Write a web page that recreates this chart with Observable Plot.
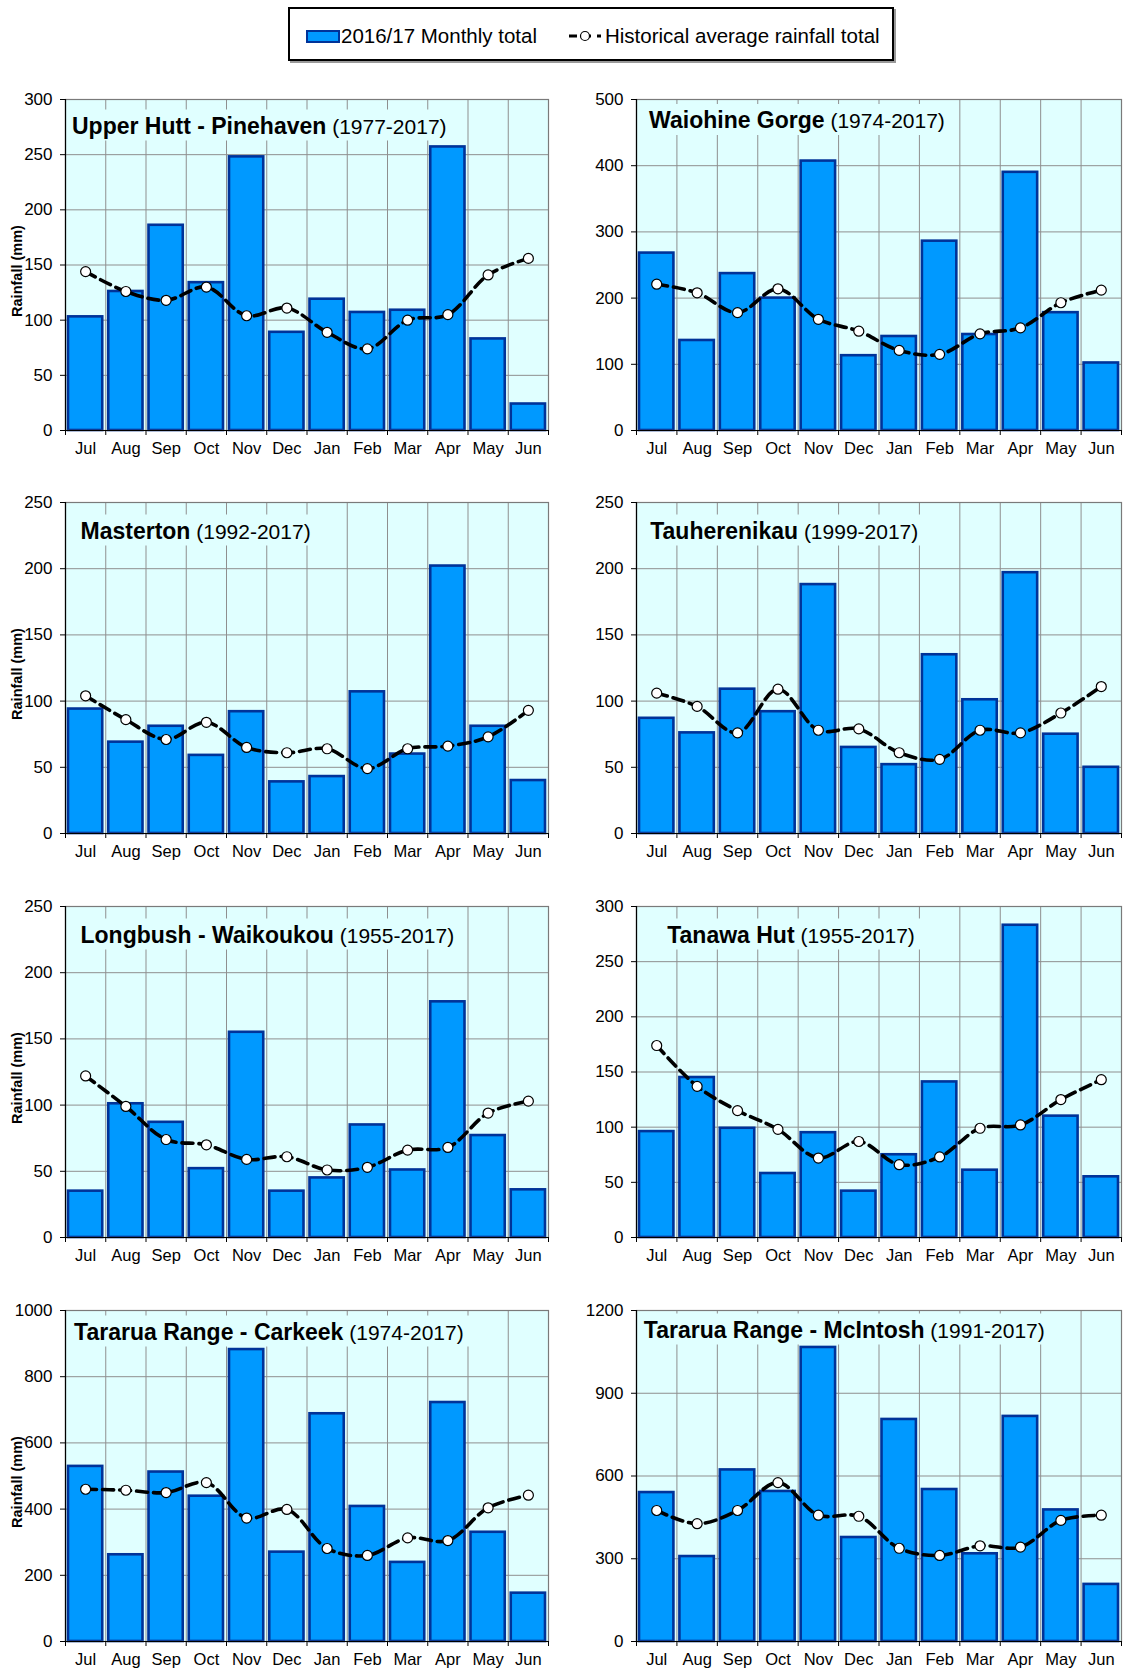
<!DOCTYPE html>
<html>
<head>
<meta charset="utf-8">
<script src="https://cdn.jsdelivr.net/npm/d3@7"></script>
<script src="https://cdn.jsdelivr.net/npm/@observablehq/plot@0.6"></script>
<style>
  body { margin: 0; background: #fff; font-family: Arial, "Liberation Sans", sans-serif; }
  #page { position: relative; width: 1123px; height: 1673px; overflow: hidden; background: #fff; }
  .legend { position: absolute; left: 288px; top: 7px; width: 606px; height: 54px; box-sizing: border-box;
            border: 2px solid #000; box-shadow: 2px 2px 0 #9a9a9a; background: #fff; }
  .legend .sw { position: absolute; left: 16px; top: 21px; width: 34px; height: 13px; box-sizing: border-box;
                background: #0099FF; border: 2.5px solid #003399; }
  .legend .lab { position: absolute; top: 15px; font-size: 20.5px; line-height: 24px; color: #000; white-space: nowrap; }
  .legend svg { position: absolute; left: 277px; top: 19px; }
  .panel { position: absolute; }
</style>
</head>
<body>
<div id="page">
  <div class="legend">
    <div class="sw"></div>
    <div class="lab" style="left:51px">2016/17 Monthly total</div>
    <svg width="36" height="16"><line x1="2" y1="8" x2="34" y2="8" stroke="#000" stroke-width="3" stroke-dasharray="8,6"/><circle cx="18" cy="8" r="4.5" fill="#fff" stroke="#000" stroke-width="1.2"/></svg>
    <div class="lab" style="left:315px">Historical average rainfall total</div>
  </div>
</div>
<script>
const months = ["Jul","Aug","Sep","Oct","Nov","Dec","Jan","Feb","Mar","Apr","May","Jun"];

const stationNames = ["Upper Hutt - Pinehaven","Waiohine Gorge","Masterton","Tauherenikau",
                      "Longbush - Waikoukou","Tanawa Hut","Tararua Range - Carkeek","Tararua Range - McIntosh"];
const stationPeriods = ["(1977-2017)","(1974-2017)","(1992-2017)","(1999-2017)",
                        "(1955-2017)","(1955-2017)","(1974-2017)","(1991-2017)"];
const yMaxima = [300, 500, 250, 250, 250, 300, 1000, 1200];
const yTickSteps = [50, 100, 50, 50, 50, 50, 200, 300];

const monthlyUpperHutt = [103,126,186,134,248,89,119,107,109,257,83,24];
const averageUpperHutt = [144,126,118,130,104,111,89,74,100,105,141,156];
const monthlyWaiohine  = [268,136,237,200,407,113,142,286,145,390,178,102];
const averageWaiohine  = [221,208,178,214,168,150,121,115,146,155,193,212];
const monthlyMasterton = [94,69,81,59,92,39,43,107,60,202,81,40];
const averageMasterton = [104,86,71,84,65,61,64,49,64,66,73,93];
const monthlyTauherenikau = [87,76,109,92,188,65,52,135,101,197,75,50];
const averageTauherenikau = [106,96,76,109,78,79,61,56,78,76,91,111];
const monthlyLongbush  = [35,101,87,52,155,35,45,85,51,178,77,36];
const averageLongbush  = [122,99,74,70,59,61,51,53,66,68,94,103];
const monthlyTanawa    = [96,145,99,58,95,42,75,141,61,283,110,55];
const averageTanawa    = [174,137,115,98,72,87,66,73,99,102,125,143];
const monthlyCarkeek   = [529,262,512,439,882,270,688,408,239,722,330,146];
const averageCarkeek   = [460,457,450,480,373,399,281,260,313,305,404,442];
const monthlyMcIntosh  = [540,308,622,544,1066,377,805,551,318,816,477,207];
const averageMcIntosh  = [475,427,475,576,458,454,338,312,347,342,439,458];

const monthlySeries = [monthlyUpperHutt, monthlyWaiohine, monthlyMasterton, monthlyTauherenikau,
                       monthlyLongbush, monthlyTanawa, monthlyCarkeek, monthlyMcIntosh];
const averageSeries = [averageUpperHutt, averageWaiohine, averageMasterton, averageTauherenikau,
                       averageLongbush, averageTanawa, averageCarkeek, averageMcIntosh];

// layout
const rowTops = [99.2, 502.4, 905.7, 1310];
const titleDx = [6.5, 12.6, 15, 13.7, 15, 30.7, 8.6, 7.3];
const titleBase = [34, 28.5, 36, 36, 36, 36, 29, 27];
const FONT = "Arial, 'Liberation Sans', sans-serif";
const BG = "#E0FFFF";

const page = document.getElementById("page");

stationNames.forEach((name, k) => {
  const col = k % 2, row = Math.floor(k / 2);
  const W = col === 0 ? 560 : 563;
  const ml = col === 0 ? 65 : 76, mr = col === 0 ? 12 : 2;
  const mt = 30, mb = 42, H = 403;
  const data = months.map((m, i) => ({month: m, i, monthly: monthlySeries[k][i], average: averageSeries[k][i]}));
  const ticks = d3.range(0, yMaxima[k] + 1, yTickSteps[k]);

  const marks = [
    Plot.frame({fill: BG, stroke: null}),
    Plot.gridY(ticks, {stroke: "#8f8f8f", strokeOpacity: 1, strokeWidth: 1}),
    Plot.gridX(d3.range(1, 12), {stroke: "#8f8f8f", strokeOpacity: 1, strokeWidth: 1}),
    Plot.text([name], {frameAnchor: "top-left", dx: titleDx[k], dy: titleBase[k], textAnchor: "start",
                       lineAnchor: "bottom", fontWeight: "bold", fontSize: 23, fill: "#000"}),
    Plot.rectY(data, {x1: "i", x2: d => d.i + 1, y: "monthly", fill: "#0099FF", stroke: "#003399",
                      strokeWidth: 2.6, insetLeft: 3, insetRight: 3}),
    Plot.line(data, {x: d => d.i + 0.5, y: "average", stroke: "#000", strokeWidth: 3.6,
                     strokeDasharray: "11,6", curve: "catmull-rom"}),
    Plot.dot(data, {x: d => d.i + 0.5, y: "average", r: 5, fill: "#fff", stroke: "#000", strokeWidth: 1.2}),
    Plot.frame({stroke: "#7a7a7a", strokeWidth: 1.2}),
    Plot.ruleX([0], {stroke: "#000", strokeWidth: 1.2}),
    Plot.ruleY([0], {stroke: "#000", strokeWidth: 1.2}),
    Plot.axisY({ticks, tickSize: 5, tickPadding: 8, fontSize: 17, tickFormat: d => String(d), label: null}),
    Plot.axisX({ticks: d3.range(13), tickSize: 5, tickFormat: () => "", label: null}),
    Plot.axisX({ticks: d3.range(12).map(i => i + 0.5), tickSize: 0, tickPadding: 12, fontSize: 16.5,
                tickFormat: d => months[Math.round(d - 0.5)], label: null})
  ];
  if (col === 0) {
    marks.push(Plot.text(["Rainfall (mm)"], {frameAnchor: "left", dx: -48, dy: 6, rotate: -90,
                                             textAnchor: "middle", fontWeight: "bold", fontSize: 14.5, fill: "#000"}));
  }

  const plot = Plot.plot({
    width: W, height: H, marginLeft: ml, marginRight: mr, marginTop: mt, marginBottom: mb,
    style: {fontFamily: FONT, background: "transparent", color: "#000", overflow: "visible"},
    x: {domain: [0, 12], axis: null},
    y: {domain: [0, yMaxima[k]], axis: null},
    marks
  });
  plot.classList.add("panel");
  plot.style.left = (col === 0 ? 0 : 560) + "px";
  plot.style.top = (rowTops[row] - mt) + "px";
  page.appendChild(plot);

  // mixed-weight title: bold station name + regular period, on a background box
  const t = Array.from(plot.querySelectorAll("text")).find(e => e.textContent === name);
  if (t) {
    const span = document.createElementNS("http://www.w3.org/2000/svg", "tspan");
    span.setAttribute("font-weight", "normal");
    span.setAttribute("font-size", "21");
    span.textContent = " " + stationPeriods[k];
    t.appendChild(span);
    const bb = t.getBBox();
    const g = t.parentNode;
    const rect = document.createElementNS("http://www.w3.org/2000/svg", "rect");
    rect.setAttribute("x", bb.x - 6);
    rect.setAttribute("y", bb.y - 3);
    rect.setAttribute("width", bb.width + 12);
    rect.setAttribute("height", bb.height + 5);
    rect.setAttribute("fill", BG);
    const tr = t.getAttribute("transform");
    if (tr) rect.setAttribute("transform", tr);
    if (t.hasAttribute("x")) rect.setAttribute("x", +t.getAttribute("x") + bb.x - +t.getAttribute("x") - 6);
    g.insertBefore(rect, t);
  }
});
</script>
</body>
</html>
